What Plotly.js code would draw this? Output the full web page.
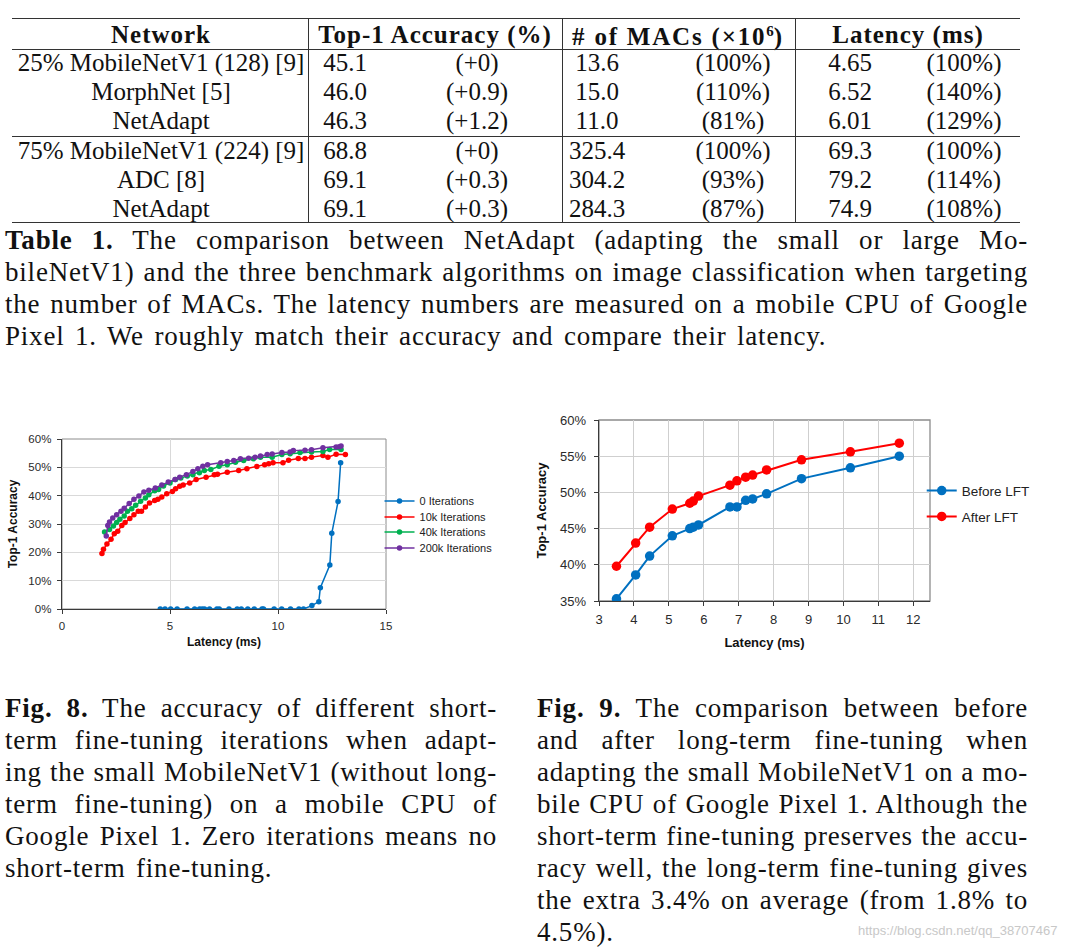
<!DOCTYPE html>
<html><head><meta charset="utf-8">
<script src="https://cdn.plot.ly/plotly-3.0.1.min.js"></script>
<style>
html,body{margin:0;padding:0;background:#fff;}
body{width:1090px;height:949px;position:relative;overflow:hidden;font-family:"Liberation Serif","Times New Roman",serif;color:#111;}
.cell{position:absolute;transform:translate(-50%,-50%);white-space:nowrap;font-size:25px;line-height:29px;}
.hd{font-weight:bold;letter-spacing:1px;}
.hline{position:absolute;height:0;border-top:1px solid #333;}
.vline{position:absolute;width:0;border-left:1px solid #333;}
.cap{position:absolute;font-size:27px;line-height:32px;letter-spacing:0.8px;word-spacing:3px;}
.ln{display:block;text-align:justify;text-align-last:justify;height:32px;white-space:nowrap;}
.ln.last{text-align-last:left;}
#fig8{position:absolute;left:0;top:425px;width:510px;height:230px;}
#fig9{position:absolute;left:530px;top:405px;width:560px;height:255px;}
#wm{position:absolute;left:858px;top:923px;font-family:"Liberation Sans",Arial,sans-serif;font-size:13px;color:#c8c8c8;white-space:nowrap;}
</style>
</head><body>
<div id="table"></div>
<div class="cap" style="left:5px;top:224px;width:1023px;">
<div class="ln"><span><b>Table 1.</b> The comparison between NetAdapt (adapting the small or large Mo-</span></div>
<div class="ln"><span>bileNetV1) and the three benchmark algorithms on image classification when targeting</span></div>
<div class="ln"><span>the number of MACs. The latency numbers are measured on a mobile CPU of Google</span></div>
<div class="ln last"><span>Pixel 1. We roughly match their accuracy and compare their latency.</span></div>
</div>
<div id="fig8"></div>
<div id="fig9"></div>
<div class="cap" style="left:5px;top:692px;width:492px;">
<div class="ln"><span><b>Fig. 8.</b> The accuracy of different short-</span></div>
<div class="ln"><span>term fine-tuning iterations when adapt-</span></div>
<div class="ln"><span>ing the small MobileNetV1 (without long-</span></div>
<div class="ln"><span>term fine-tuning) on a mobile CPU of</span></div>
<div class="ln"><span>Google Pixel 1. Zero iterations means no</span></div>
<div class="ln last"><span>short-term fine-tuning.</span></div>
</div>
<div class="cap" style="left:537px;top:692px;width:491px;">
<div class="ln"><span><b>Fig. 9.</b> The comparison between before</span></div>
<div class="ln"><span>and after long-term fine-tuning when</span></div>
<div class="ln"><span>adapting the small MobileNetV1 on a mo-</span></div>
<div class="ln"><span>bile CPU of Google Pixel 1. Although the</span></div>
<div class="ln"><span>short-term fine-tuning preserves the accu-</span></div>
<div class="ln"><span>racy well, the long-term fine-tuning gives</span></div>
<div class="ln"><span>the extra 3.4% on average (from 1.8% to</span></div>
<div class="ln last"><span>4.5%).</span></div>
</div>
<div id="wm">https://blog.csdn.net/qq_38707467</div>
<script>
// ---------- Table 1 data ----------
const tableHeaders = ['Network', 'Top-1 Accuracy (%)', '# of MACs (×10<sup style="font-size:60%;letter-spacing:0">6</sup>)', 'Latency (ms)'];
const networks = ['25% MobileNetV1 (128) [9]', 'MorphNet [5]', 'NetAdapt', '75% MobileNetV1 (224) [9]', 'ADC [8]', 'NetAdapt'];
const top1Acc = ['45.1', '46.0', '46.3', '68.8', '69.1', '69.1'];
const top1Delta = ['(+0)', '(+0.9)', '(+1.2)', '(+0)', '(+0.3)', '(+0.3)'];
const macs = ['13.6', '15.0', '11.0', '325.4', '304.2', '284.3'];
const macsPct = ['(100%)', '(110%)', '(81%)', '(100%)', '(93%)', '(87%)'];
const latency = ['4.65', '6.52', '6.01', '69.3', '79.2', '74.9'];
const latencyPct = ['(100%)', '(140%)', '(129%)', '(100%)', '(114%)', '(108%)'];

// ---------- Fig. 8 data (latency ms, top-1 accuracy %) ----------
const it0X = [4.55,4.77,5.03,5.33,5.79,6.14,6.37,6.49,6.60,6.83,7.17,7.28,7.73,8.11,8.30,8.60,8.90,9.26,9.33,9.82,10.17,10.58,10.97,11.18,11.57,11.89,11.96,12.40,12.49,12.78,12.90];
const it0Y = [0,0,0,0,0,0,0,0,0,0,0,0,0,0,0,0,0,0,0,0,0,0,0,0,1.2,2.6,7.5,15.5,26.7,37.9,51.6];
const it10kX = [1.85,1.92,2.08,2.27,2.42,2.58,2.77,2.92,3.14,3.33,3.53,3.68,3.86,4.05,4.29,4.44,4.62,4.85,5.11,5.26,5.45,5.61,5.91,6.21,6.67,7.05,7.20,7.65,8.18,8.56,9.02,9.38,9.57,9.77,10.23,10.49,10.94,11.25,11.55,12.08,12.31,12.69,13.12];
const it10kY = [19.6,21.1,22.9,24.6,26.6,27.4,29.5,30.5,31.9,33.3,34.5,34.5,36.0,37.4,38.3,38.7,39.5,40.7,41.5,42.4,43.3,43.8,44.5,45.7,46.5,47.4,47.6,48.3,48.9,49.5,50.3,50.9,51.3,51.6,51.6,52.5,53.1,53.1,53.6,54.2,53.6,54.6,54.5];
const it40kX = [1.97,2.20,2.38,2.53,2.68,2.88,3.03,3.23,3.41,3.64,3.86,4.02,4.29,4.47,4.70,5.00,5.26,5.50,5.80,6.06,6.36,6.59,6.89,7.27,7.65,8.03,8.41,8.86,9.19,9.73,10.18,10.56,11.02,11.55,12.08,12.39,12.92];
const it40kY = [27.2,28.1,29.3,30.5,31.7,32.8,34.5,35.4,36.6,38.0,39.2,40.3,41.7,42.2,43.4,44.5,45.7,46.2,46.9,47.4,48.1,48.9,49.2,50.4,50.9,51.8,52.4,53.0,53.6,53.6,54.5,54.8,55.2,55.4,55.6,56.3,56.3];
const it200kX = [2.05,2.12,2.20,2.35,2.53,2.73,2.88,3.11,3.33,3.56,3.79,4.02,4.32,4.62,4.92,5.23,5.45,5.76,6.06,6.29,6.52,6.74,7.35,7.65,7.95,8.26,8.64,8.94,9.19,9.50,9.73,10.18,10.56,10.71,11.25,11.55,12.08,12.69,12.84,12.92];
const it200kY = [25.8,29.5,30.7,32.1,33.3,34.5,35.6,37.2,38.7,39.9,41.3,41.9,42.7,43.8,44.8,45.7,46.5,47.4,48.5,49.5,50.4,50.9,51.6,52.1,52.4,53.0,53.2,53.6,54.0,54.5,54.7,55.2,55.4,55.9,56.0,56.2,56.9,57.2,57.3,57.5];
const fig8Names = ['0 Iterations', '10k Iterations', '40k Iterations', '200k Iterations'];

// ---------- Fig. 9 data ----------
const lftLatency = [3.5,4.05,4.45,5.1,5.6,5.7,5.85,6.75,6.95,7.2,7.4,7.8,8.8,10.2,11.6];
const beforeLFT = [35.3,38.6,41.2,44.0,45.0,45.2,45.5,48.0,48.0,48.9,49.1,49.8,51.9,53.4,55.0];
const afterLFT = [39.8,43.0,45.2,47.7,48.5,48.8,49.5,51.0,51.6,52.1,52.4,53.1,54.5,55.6,56.8];
const fig9Names = ['Before LFT', 'After LFT'];

// ---------- fit justified caption lines ----------
document.querySelectorAll('.cap').forEach(cap=>{
  const W = cap.clientWidth;
  cap.querySelectorAll('.ln').forEach(ln=>{
    if (ln.classList.contains('last')) return;
    const span = ln.firstElementChild;
    const prev = ln.style.textAlignLast;
    ln.style.textAlignLast = 'left';
    let ls = 0.8, ws = 3;
    for (let k=0; k<40; k++){
      ln.style.letterSpacing = ls + 'px';
      ln.style.wordSpacing = ws + 'px';
      if (span.getBoundingClientRect().width <= W - 2) break;
      if (ws > 0) ws -= 0.5; else ls -= 0.05;
    }
    ln.style.textAlignLast = prev;
  });
});

// ---------- build table ----------
(function(){
  const t = document.getElementById('table');
  function add(cls, style, html){ const d=document.createElement('div'); d.className=cls; d.setAttribute('style',style); if(html!==undefined) d.innerHTML=html; t.appendChild(d); }
  const hdX = [161, 435, 678, 908];
  tableHeaders.forEach((h,i)=>add('cell hd', `left:${hdX[i]}px;top:34px;` + (i===2?'letter-spacing:1.8px;':''), h));
  const rowY = [62, 91, 120, 150, 179, 208];
  const colX = [161, 345, 477, 597, 733, 850, 964];
  const cols = [networks, top1Acc, top1Delta, macs, macsPct, latency, latencyPct];
  cols.forEach((col,c)=>col.forEach((v,r)=>add('cell', `left:${colX[c]}px;top:${rowY[r]}px;`, v)));
  add('hline','left:12px;top:18px;width:1008px;border-top-width:1.5px;');
  add('hline','left:12px;top:49px;width:1008px;');
  add('hline','left:12px;top:136px;width:1008px;');
  add('hline','left:12px;top:222px;width:1008px;border-top-width:1.5px;');
  [308, 562, 795].forEach(x=>add('vline', `left:${x}px;top:19px;height:203px;`));
})();

// ---------- charts ----------
const sans = 'Liberation Sans, Arial, sans-serif';
function axisBase(fs){
  return {showgrid:true, gridcolor:'#d9d9d9', gridwidth:1, showline:true, linecolor:'#3a3a3a', linewidth:1.3,
    ticks:'outside', ticklen:4, tickcolor:'#3a3a3a', tickwidth:1, zeroline:false, fixedrange:true,
    tickfont:{family:sans, size:fs, color:'#2a2a2a'}};
}
const cfg = {staticPlot:true, displayModeBar:false};

const fig8Colors = ['#0070C0', '#FF0000', '#00B050', '#7030A0'];
const fig8X = [it0X, it10kX, it40kX, it200kX];
const fig8Y = [it0Y, it10kY, it40kY, it200kY];
const legendY8 = [0.635, 0.541, 0.453, 0.359];
const traces8 = fig8Names.map((n,i)=>({
  type:'scatter', mode:'lines+markers', name:n, x:fig8X[i], y:fig8Y[i],
  line:{color:fig8Colors[i], width:1.5}, marker:{color:fig8Colors[i], size:5.5},
  legend: i===0 ? 'legend' : 'legend'+(i+1)
}));
const layout8 = {
  width:510, height:230, margin:{l:62, r:119, t:14, b:46},
  paper_bgcolor:'rgba(0,0,0,0)', plot_bgcolor:'#fff', showlegend:true,
  xaxis:Object.assign(axisBase(11.5), {range:[0,15], tickvals:[0,5,10,15], ticklabelstandoff:2,
    title:{text:'Latency (ms)', font:{family:sans, size:12, weight:'bold', color:'#111'}, standoff:6}}),
  yaxis:Object.assign(axisBase(11.5), {range:[0,60], dtick:10, ticksuffix:'%', ticklabelstandoff:3,
    title:{text:'Top-1 Accuracy', font:{family:sans, size:12, weight:'bold', color:'#111'}, standoff:8}}),
  shapes:[{type:'rect', xref:'paper', yref:'paper', x0:0, x1:1, y0:0, y1:1, line:{color:'#8c8c8c', width:1}, layer:'below'}]
};
legendY8.forEach((y,i)=>{
  layout8[i===0?'legend':'legend'+(i+1)] = {x:0.98, y:y, xanchor:'left', yanchor:'middle', bgcolor:'rgba(0,0,0,0)',
    borderwidth:0, itemwidth:30, font:{family:sans, size:11, color:'#222'}};
});
Plotly.newPlot('fig8', traces8, layout8, cfg);

const fig9Colors = ['#0070C0', '#FF0000'];
const fig9Y = [beforeLFT, afterLFT];
const legendY9 = [0.609, 0.466];
const traces9 = fig9Names.map((n,i)=>({
  type:'scatter', mode:'lines+markers', name:n, x:lftLatency, y:fig9Y[i],
  line:{color:fig9Colors[i], width:2}, marker:{color:fig9Colors[i], size:9.5},
  legend: i===0 ? 'legend' : 'legend'+(i+1)
}));
const layout9 = {
  width:560, height:255, margin:{l:69, r:160, t:15, b:59},
  paper_bgcolor:'rgba(0,0,0,0)', plot_bgcolor:'#fff', showlegend:true,
  xaxis:Object.assign(axisBase(13), {range:[3,12.48], dtick:1, gridcolor:'#cfcfcf', ticklabelstandoff:2,
    title:{text:'Latency (ms)', font:{family:sans, size:13, weight:'bold', color:'#111'}, standoff:12}}),
  yaxis:Object.assign(axisBase(13), {range:[35,60], dtick:5, ticksuffix:'%', gridcolor:'#cfcfcf', ticklabelstandoff:5,
    title:{text:'Top-1 Accuracy', font:{family:sans, size:13, weight:'bold', color:'#111'}, standoff:10}}),
  shapes:[{type:'rect', xref:'paper', yref:'paper', x0:0, x1:1, y0:0, y1:1, line:{color:'#8c8c8c', width:1.3}, layer:'below'}]
};
legendY9.forEach((y,i)=>{
  layout9[i===0?'legend':'legend'+(i+1)] = {x:0.975, y:y, xanchor:'left', yanchor:'middle', bgcolor:'rgba(0,0,0,0)',
    borderwidth:0, itemwidth:30, font:{family:sans, size:13.5, color:'#222'}};
});
Plotly.newPlot('fig9', traces9, layout9, cfg);
</script>
</body></html>
